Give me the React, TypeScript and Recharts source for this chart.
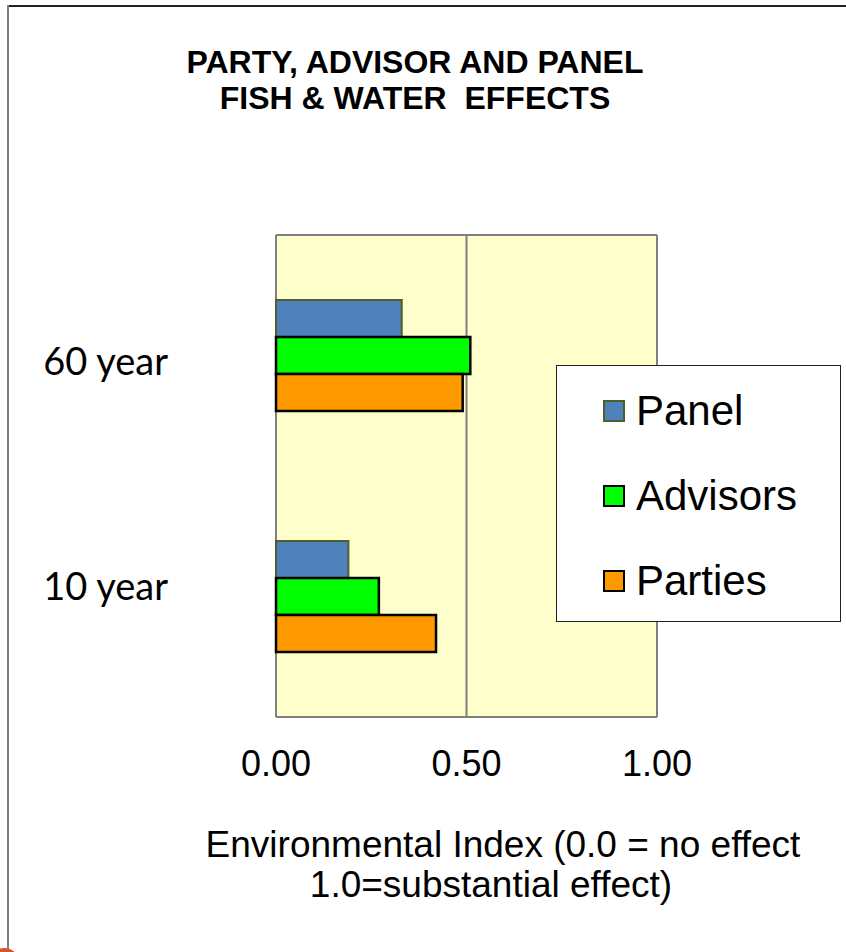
import { Bar, BarChart, CartesianGrid, Legend, XAxis, YAxis } from 'recharts';

// Environmental index by horizon, per group
const periods = ['60 year', '10 year'];
const panel = [0.33, 0.19];
const advisors = [0.51, 0.27];
const parties = [0.49, 0.42];
const indexTicks = [0, 0.5, 1];

const series = [
  { key: 'Panel', fill: '#4F81BD', stroke: '#4F5F2A', strokeWidth: 2 },
  { key: 'Advisors', fill: '#00FF00', stroke: '#000000', strokeWidth: 2.5 },
  { key: 'Parties', fill: '#FF9900', stroke: '#000000', strokeWidth: 2.5 },
];

const data = periods.map((period, i) => ({
  period,
  Panel: panel[i],
  Advisors: advisors[i],
  Parties: parties[i],
}));

const ARIAL = '"Liberation Sans", Arial, sans-serif';

// category labels sit a little off the band centres
const periodLabelShift = [19, 3];

function PeriodTick({ x, y, payload, index }: any) {
  return (
    <text
      x={x - 108}
      y={y}
      dy={periodLabelShift[index] ?? 12}
      textAnchor="end"
      fontFamily="Lato, sans-serif"
      fontSize={38}
      fill="#000"
    >
      {payload.value}
    </text>
  );
}

function IndexTick({ x, y, payload }: any) {
  return (
    <text x={x} y={y} dy={59} textAnchor="middle" fontFamily={ARIAL} fontSize={36} fill="#000">
      {Number(payload.value).toFixed(2)}
    </text>
  );
}

function LegendBox() {
  return (
    <div
      style={{
        width: 285,
        height: 257,
        boxSizing: 'border-box',
        border: '1.5px solid #222',
        background: '#fff',
        paddingTop: 2,
        paddingLeft: 46,
      }}
    >
      {series.map((s) => (
        <div key={s.key} style={{ height: 85, display: 'flex', alignItems: 'center' }}>
          <span
            style={{
              width: 22,
              height: 22,
              boxSizing: 'border-box',
              background: s.fill,
              border: `2px solid ${s.stroke}`,
              display: 'inline-block',
            }}
          />
          <span style={{ marginLeft: 11, fontFamily: ARIAL, fontSize: 42, color: '#000', lineHeight: '42px' }}>
            {s.key}
          </span>
        </div>
      ))}
    </div>
  );
}

const axisTitleStyle = {
  position: 'absolute' as const,
  width: 600,
  textAlign: 'center' as const,
  fontFamily: ARIAL,
  fontSize: 37,
  lineHeight: '40px',
  color: '#000',
};

export default function App() {
  return (
    <div style={{ position: 'relative', width: 846, height: 952, overflow: 'hidden', background: '#fff' }}>
      <style>{'body{margin:0}'}</style>
      {/* slide frame */}
      <div style={{ position: 'absolute', left: 7, top: 5, right: 0, height: 2, background: '#222' }} />
      <div style={{ position: 'absolute', left: 7, top: 5, bottom: 0, width: 2, background: '#808080' }} />
      <div
        style={{
          position: 'absolute',
          left: -12,
          top: 948,
          width: 32,
          height: 32,
          borderRadius: '50%',
          background: '#D9541E',
        }}
      />

      <div
        style={{
          position: 'absolute',
          left: 0,
          top: 44,
          width: 830,
          textAlign: 'center',
          fontFamily: ARIAL,
          fontWeight: 700,
          fontSize: 32,
          lineHeight: '36px',
          whiteSpace: 'pre',
          color: '#000',
        }}
      >
        {'PARTY, ADVISOR AND PANEL\nFISH & WATER  EFFECTS'}
      </div>

      <div style={{ position: 'absolute', left: 0, top: 0 }}>
        <BarChart
          width={846}
          height={952}
          data={data}
          layout="vertical"
          barGap={0}
          barCategoryGap="27%"
          margin={{ top: 235, right: 189, bottom: 175, left: 0 }}
        >
          <CartesianGrid
            fill="#FFFFCC"
            stroke="#808080"
            strokeWidth={2}
            horizontalCoordinatesGenerator={({ offset }: any) => [offset.top, offset.top + offset.height]}
          />
          <XAxis
            type="number"
            domain={[0, 1]}
            ticks={indexTicks}
            axisLine={false}
            tickLine={false}
            tickSize={0}
            tickMargin={0}
            height={60}
            tick={<IndexTick />}
          />
          <YAxis
            type="category"
            dataKey="period"
            axisLine={false}
            tickLine={false}
            tickSize={0}
            tickMargin={0}
            width={276}
            tick={<PeriodTick />}
          />
          <Legend
            layout="vertical"
            align="center"
            verticalAlign="middle"
            content={<LegendBox />}
            wrapperStyle={{ left: 556, top: 365, width: 285, height: 257 }}
          />
          {series.map((s) => (
            <Bar
              key={s.key}
              dataKey={s.key}
              fill={s.fill}
              stroke={s.stroke}
              strokeWidth={s.strokeWidth}
              isAnimationActive={false}
            />
          ))}
        </BarChart>
      </div>

      {/* x-axis title */}
      <div style={{ ...axisTitleStyle, left: 203, top: 825 }}>Environmental Index (0.0 = no effect</div>
      <div style={{ ...axisTitleStyle, left: 191, top: 865 }}>1.0=substantial effect)</div>
    </div>
  );
}
